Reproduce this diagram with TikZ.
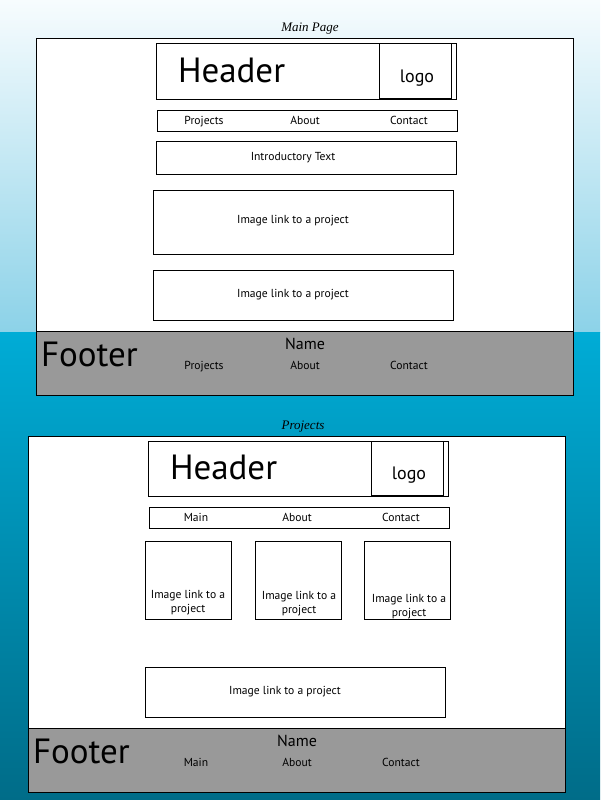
\documentclass[tikz,border=0pt]{standalone}
\usepackage{fontspec}
\setmainfont{PT Sans}
\newfontfamily\handfont{Liberation Serif}
\definecolor{skytop}{HTML}{F7FCFE}
\definecolor{skylow}{HTML}{8CD2E8}
\definecolor{seatop}{HTML}{00ACD6}
\definecolor{sealow}{HTML}{006C88}
\definecolor{footgrey}{HTML}{999999}
\begin{document}
\begin{tikzpicture}[x=1pt,y=-1pt,
  box/.style={draw=black, line width=1pt, fill=white, rectangle, anchor=north west,
    inner sep=0pt, outer sep=0pt},
  footbar/.style={box, fill=footgrey},
  txt/.style={inner sep=0pt, outer sep=0pt, anchor=base, text=black},
  small/.style={txt, font=\fontsize{11.6}{14}\selectfont},
  big/.style={txt, anchor=base west, font=\fontsize{35}{40}\selectfont},
  logotxt/.style={txt, font=\fontsize{18}{20}\selectfont},
  nametxt/.style={txt, font=\fontsize{16}{18}\selectfont},
  hand/.style={txt, font=\handfont\itshape\fontsize{13}{15}\selectfont},
  twoline/.style={inner sep=0pt, anchor=center, align=center, font=\fontsize{11.6}{14}\selectfont}
]
\useasboundingbox (0,0) rectangle (600,800);

% backdrop: pale sky above, deep water below
\shade[top color=skytop, bottom color=skylow] (0,0) rectangle (600,332);
\shade[top color=seatop, bottom color=sealow] (0,332) rectangle (600,800);

% ---------- Main page ----------
\node[hand] (titleA) at (310,32) {Main Page};
\node[box, minimum width=537pt, minimum height=292pt] (frameA) at (36,39) {};
\node[footbar, minimum width=537pt, minimum height=64pt] (footA) at (36,331) {};
\node[box, minimum width=300pt, minimum height=55pt] (headA) at (156,44) {};
\node[box, minimum width=72pt, minimum height=54pt] (logoA) at (379,44) {};
\node[big] (headtxtA) at (178,82) {Header};
\node[logotxt] (logotxtA) at (417,82) {logo};
\node[box, minimum width=300pt, minimum height=21pt] (navA) at (157,110) {};
\node[small] (navA1) at (204,124) {Projects};
\node[small] (navA2) at (305,124) {About};
\node[small] (navA3) at (409,124) {Contact};
\node[box, minimum width=300pt, minimum height=33pt] (introA) at (156,141) {};
\node[small] (introtxtA) at (293,160) {Introductory Text};
\node[box, minimum width=300pt, minimum height=64pt] (imgA1) at (153,190) {};
\node[small] (imgtxtA1) at (293,223) {Image link to a project};
\node[box, minimum width=300pt, minimum height=50pt] (imgA2) at (153,270) {};
\node[small] (imgtxtA2) at (293,297) {Image link to a project};
\node[big] (foottxtA) at (41,366) {Footer};
\node[nametxt] (nameA) at (305,349) {Name};
\node[small] (fnavA1) at (204,369) {Projects};
\node[small] (fnavA2) at (305,369) {About};
\node[small] (fnavA3) at (409,369) {Contact};

% ---------- Projects page ----------
\node[hand] (titleB) at (303,429) {Projects};
\node[box, minimum width=537pt, minimum height=292pt] (frameB) at (28,436) {};
\node[footbar, minimum width=537pt, minimum height=64pt] (footB) at (28,728) {};
\node[box, minimum width=300pt, minimum height=55pt] (headB) at (148,441) {};
\node[box, minimum width=72pt, minimum height=54pt] (logoB) at (371,441) {};
\node[big] (headtxtB) at (170,479) {Header};
\node[logotxt] (logotxtB) at (409,479) {logo};
\node[box, minimum width=300pt, minimum height=21pt] (navB) at (149,507) {};
\node[small] (navB1) at (196,521) {Main};
\node[small] (navB2) at (297,521) {About};
\node[small] (navB3) at (401,521) {Contact};
\node[box, minimum width=86pt, minimum height=78pt] (tileB1) at (145,541) {};
\node[box, minimum width=86pt, minimum height=78pt] (tileB2) at (255,541) {};
\node[box, minimum width=86pt, minimum height=78pt] (tileB3) at (364,541) {};
\node[twoline] (tiletxtB1) at (188,603) {Image link to a\\project};
\node[twoline] (tiletxtB2) at (299,604) {Image link to a\\project};
\node[twoline] (tiletxtB3) at (409,607) {Image link to a\\project};
\node[box, minimum width=300pt, minimum height=50pt] (imgB) at (145,667) {};
\node[small] (imgtxtB) at (285,694) {Image link to a project};
\node[big] (foottxtB) at (33,763) {Footer};
\node[nametxt] (nameB) at (297,746) {Name};
\node[small] (fnavB1) at (196,766) {Main};
\node[small] (fnavB2) at (297,766) {About};
\node[small] (fnavB3) at (401,766) {Contact};
\end{tikzpicture}
\end{document}
